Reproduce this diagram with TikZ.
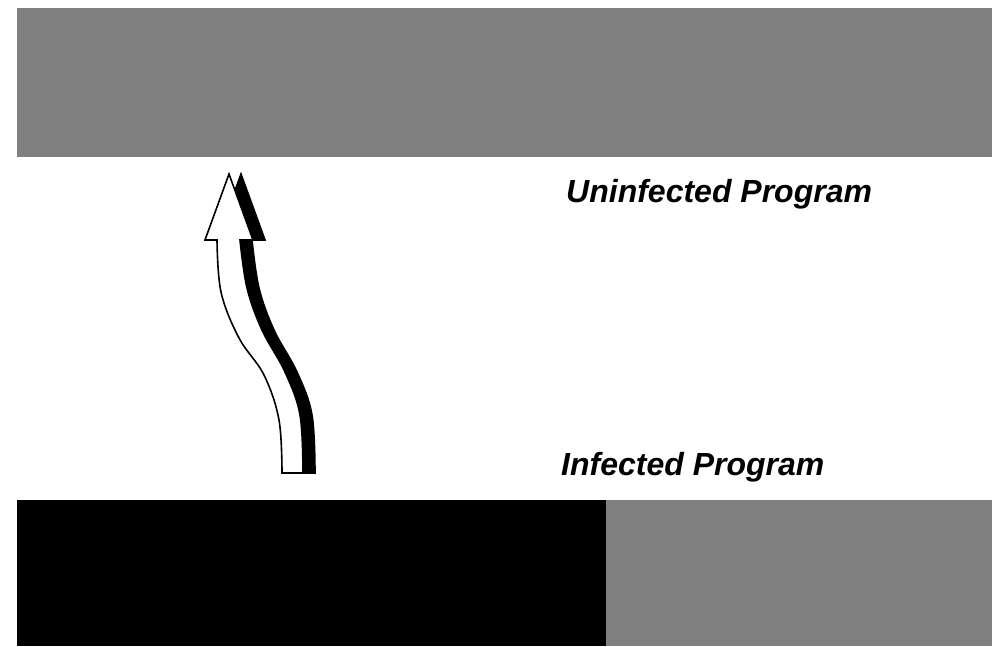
\documentclass[tikz,border=0pt]{standalone}
\usepackage{fontspec}
\setmainfont{Liberation Sans}
\definecolor{bargray}{RGB}{128,128,128}
\tikzset{
  label text/.style={font=\fontsize{32}{36}\selectfont\bfseries\itshape, inner sep=0pt, anchor=base west},
}
\begin{document}
\begin{tikzpicture}[x=1pt,y=-1pt]
\useasboundingbox (0,0) rectangle (992,646);
% bars
\fill[bargray] (17,8) rectangle (992,157);
\fill[black] (17,500) rectangle (606,646);
\fill[bargray] (606,500) rectangle (992,646);
% arrow shape
\def\arrowshape{(229,174) -- (205,240) -- (217,240) -- plot[smooth,tension=0.6] coordinates {(217,240) (221,292) (239,338) (264,375) (279,420) (282,473)} -- (303,473) -- plot[smooth,tension=0.6] coordinates {(303,473) (300,415) (285,372) (262,330) (247,288) (240,240)} -- (253,240) -- cycle}
\begin{scope}[xshift=12]
\fill[black] \arrowshape;
\draw[black,line width=1.6pt,line join=miter] \arrowshape;
\end{scope}
\filldraw[fill=white,draw=black,line width=1.6pt,line join=miter] \arrowshape;
% labels
\node[label text] (uninf) at (566,202) {Uninfected Program};
\node[label text] (inf) at (561,475) {Infected Program};
\end{tikzpicture}
\end{document}
